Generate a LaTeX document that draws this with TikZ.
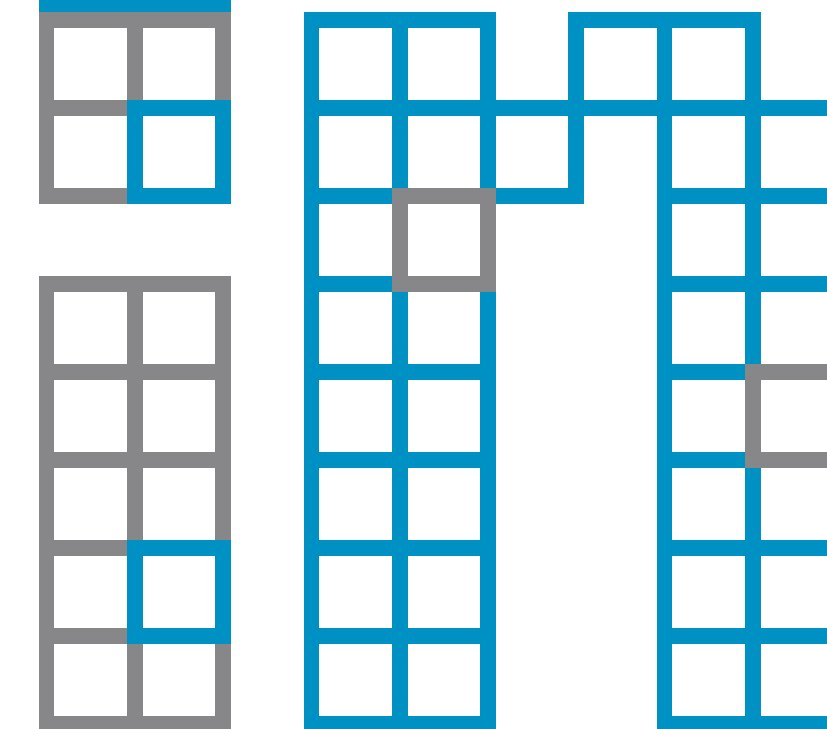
\documentclass[tikz,border=0pt]{standalone}
\usetikzlibrary{calc}
\definecolor{gridblue}{RGB}{0,145,196}
\definecolor{gridgray}{RGB}{135,135,137}
\tikzset{
  cellline/.style={line width=15.7pt, line join=miter, miter limit=10},
  bluecell/.style={cellline, draw=gridblue},
  graycell/.style={cellline, draw=gridgray},
}
\newcommand\gridcell[3]{% style, column, row
  \draw[#1] ({46.5+88.3*#2},{19.7+88*#3}) rectangle ({46.5+88.3*(#2+1)},{19.7+88*(#3+1)});
}
\begin{document}
\begin{tikzpicture}[x=1pt,y=-1pt]
\useasboundingbox (0,0) rectangle (827,728);
\clip (0,0) rectangle (827,728);
% left top block
\fill[gridblue] (38.65,-10) rectangle (231,11.85);
\gridcell{graycell}{0}{0}
\gridcell{graycell}{1}{0}
\gridcell{graycell}{0}{1}
\gridcell{bluecell}{1}{1}
% left lower block
\foreach \r in {3,...,7}{
  \foreach \c in {0,1}{
    \gridcell{graycell}{\c}{\r}
  }
}
\gridcell{bluecell}{1}{6}
% middle block
\foreach \r in {0,...,7}{
  \foreach \c in {3,4}{
    \gridcell{bluecell}{\c}{\r}
  }
}
\gridcell{bluecell}{5}{1}
\gridcell{bluecell}{6}{0}
\gridcell{bluecell}{7}{0}
% right block
\foreach \r in {1,...,7}{
  \foreach \c in {7,8}{
    \gridcell{bluecell}{\c}{\r}
  }
}
% gray highlighted cells
\gridcell{graycell}{4}{2}
\gridcell{graycell}{8}{4}
\end{tikzpicture}
\end{document}
